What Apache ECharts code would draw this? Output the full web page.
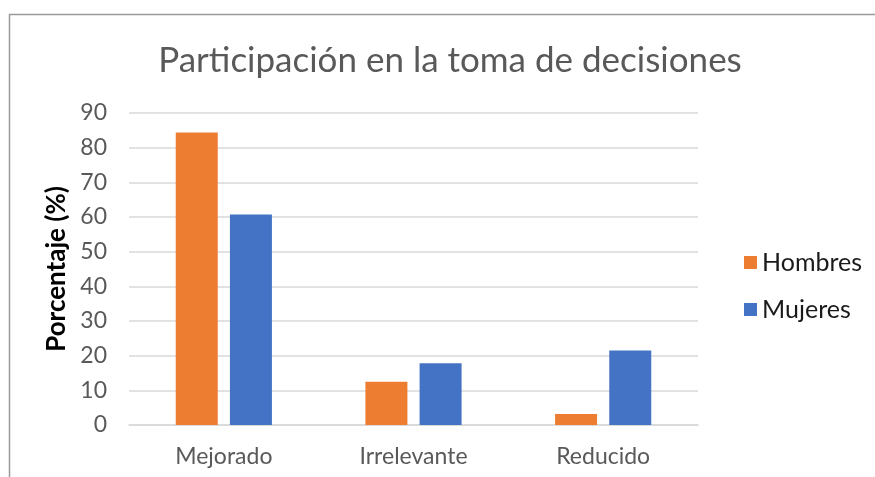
<!DOCTYPE html>
<html>
<head>
<meta charset="utf-8">
<script src="https://cdn.jsdelivr.net/npm/echarts@6/dist/echarts.min.js"></script>
<style>
  html, body { margin: 0; padding: 0; background: #fff; }
  #chart { width: 875px; height: 477px; }
</style>
</head>
<body>
<div id="chart"></div>
<script>
// Categories and percentages per group
const categories = ['Mejorado', 'Irrelevante', 'Reducido'];
const hombres = [84.4, 12.5, 3.2];
const mujeres = [60.7, 17.8, 21.5];
const yTicks = { min: 0, max: 90, interval: 10 };

const FONT = 'Lato, "Open Sans", sans-serif';
const chart = echarts.init(document.getElementById('chart'));

chart.setOption({
  animation: false,
  backgroundColor: '#fff',
  graphic: [{
    type: 'rect',
    shape: { x: 9.5, y: 14.5, width: 900, height: 500 },
    style: { fill: 'none', stroke: '#9a9a9a', lineWidth: 1.5 },
    silent: true,
    z: -1
  }],
  title: {
    text: 'Participación en la toma de decisiones',
    left: 445, top: 38, textAlign: 'center',
    textStyle: { fontFamily: FONT, fontSize: 35, fontWeight: 'normal', color: '#595959' }
  },
  legend: {
    orient: 'vertical',
    left: 739, top: 245,
    itemWidth: 13, itemHeight: 13, itemGap: 22,
    icon: 'rect',
    textStyle: { fontFamily: FONT, fontSize: 25, color: '#1a1a1a' },
    data: ['Hombres', 'Mujeres']
  },
  grid: { left: 129, right: 177, top: 113, bottom: 52, containLabel: false },
  xAxis: {
    type: 'category',
    data: categories,
    axisLine: { show: true, lineStyle: { color: '#d9d9d9', width: 1.5 } },
    axisTick: { show: false },
    axisLabel: { fontFamily: FONT, fontSize: 23, color: '#595959', margin: 20 }
  },
  yAxis: {
    type: 'value',
    min: yTicks.min, max: yTicks.max, interval: yTicks.interval,
    name: 'Porcentaje (%)',
    nameLocation: 'middle',
    nameGap: 58,
    nameTextStyle: { fontFamily: FONT, fontSize: 26, fontWeight: 'bold', color: '#000' },
    axisLine: { show: false },
    axisTick: { show: false },
    axisLabel: { fontFamily: FONT, fontSize: 23, color: '#595959', margin: 22 },
    splitLine: { lineStyle: { color: '#d9d9d9', width: 1.5 } }
  },
  series: [
    {
      name: 'Hombres', type: 'bar', data: hombres,
      itemStyle: { color: '#ED7D31' },
      barWidth: 42, barGap: '29%'
    },
    {
      name: 'Mujeres', type: 'bar', data: mujeres,
      itemStyle: { color: '#4472C4' },
      barWidth: 42, barGap: '29%'
    }
  ]
});
</script>
</body>
</html>
